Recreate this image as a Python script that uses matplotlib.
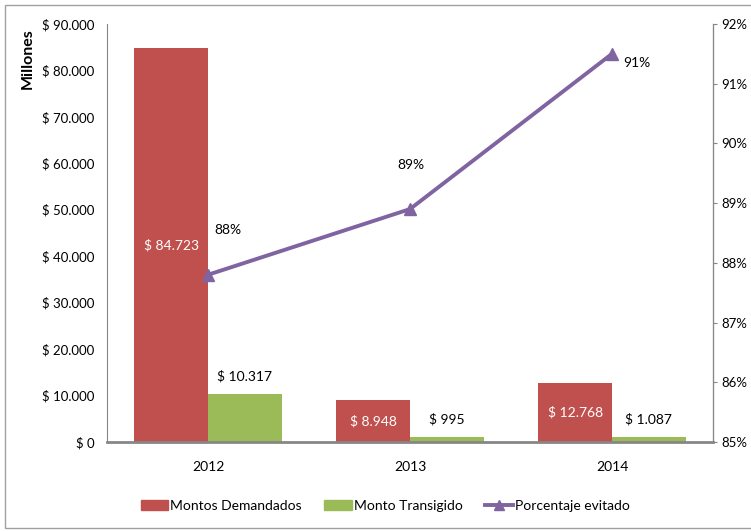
import matplotlib
matplotlib.use("Agg")
from matplotlib import pyplot as plt
from matplotlib.patches import Rectangle
from matplotlib.lines import Line2D
from matplotlib.ticker import FuncFormatter, MultipleLocator

years = ['2012', '2013', '2014']
montos_demandados = [84723, 8948, 12768]
monto_transigido = [10317, 995, 1087]
porcentaje_evitado = [87.8, 88.9, 91.5]
porcentaje_labels = ['88%', '89%', '91%']

red = '#C0504D'
green = '#9BBB59'
purple = '#8064A2'
axis_grey = '#868686'

plt.rcParams['font.family'] = ['Lato', 'DejaVu Sans']
plt.rcParams['font.size'] = 10


def miles(v):
    # 84723 -> "$ 84.723"
    return '$ ' + '{:,.0f}'.format(v).replace(',', '.')


figure = plt.figure(figsize=(7.51, 5.31), dpi=100)
figure.patches.append(Rectangle((0.006, 0.006), 1.2, 0.985, transform=figure.transFigure,
                                fill=False, edgecolor='#A0A0A0', linewidth=1.0))
axis = figure.add_axes([0.1425, 0.1676, 0.807, 0.7874])
axis2 = axis.twinx()

x = list(range(len(years)))
bar_width = 0.365
axis.bar([i - bar_width for i in x], montos_demandados, width=bar_width, align='edge',
         color=red, label='Montos Demandados', zorder=2)
axis.bar(x, monto_transigido, width=bar_width, align='edge',
         color=green, label='Monto Transigido', zorder=2)

axis.set_xlim(-0.5, 2.5)
axis.set_ylim(0, 90000)
axis.yaxis.set_major_locator(MultipleLocator(10000))
axis.yaxis.set_major_formatter(FuncFormatter(lambda v, p: miles(v)))
axis.set_xticks(x)
axis.set_xticklabels(years)
axis.tick_params(axis='x', length=0, pad=14)
axis.tick_params(axis='y', length=0, pad=9, labelsize=9.5)

for spine in ['top']:
    axis.spines[spine].set_visible(False)
    axis2.spines[spine].set_visible(False)
axis.spines['left'].set_color(axis_grey)
axis.spines['bottom'].set_color(axis_grey)
axis.spines['bottom'].set_linewidth(2.0)
axis2.spines['right'].set_color(axis_grey)
axis2.spines['left'].set_visible(False)
axis2.spines['bottom'].set_visible(False)

# bar value labels
for i in x:
    axis.text(i - bar_width / 2, montos_demandados[i] / 2, miles(montos_demandados[i]),
              ha='center', va='center', color='white', zorder=3)
    axis.annotate(miles(monto_transigido[i]), (i + bar_width / 2, monto_transigido[i]),
                  xytext=(0, 13), textcoords='offset points', ha='center', va='center')

# percentage line on the secondary axis
axis2.plot(x, porcentaje_evitado, color=purple, linewidth=2.8, marker='^', markersize=9, zorder=4)
axis2.set_ylim(85, 92)
axis2.yaxis.set_major_locator(MultipleLocator(1))
axis2.yaxis.set_major_formatter(FuncFormatter(lambda v, p: '{:.0f}%'.format(v)))
axis2.tick_params(axis='y', length=3, color=axis_grey, pad=3, labelsize=9.5)

label_offsets = [(14, 32), (1, 32), (18, -7)]
for i in x:
    axis2.annotate(porcentaje_labels[i], (i, porcentaje_evitado[i]), xytext=label_offsets[i],
                   textcoords='offset points', ha='center', va='center')

axis.text(-0.131, 0.99, 'Millones', transform=axis.transAxes, rotation=90,
          ha='center', va='top', fontweight='bold', fontsize=11.5)

handles = [Rectangle((0, 0), 1, 1, color=red), Rectangle((0, 0), 1, 1, color=green),
           Line2D([0], [0], color=purple, linewidth=2.8, marker='^', markersize=7)]
figure.legend(handles, ['Montos Demandados', 'Monto Transigido', 'Porcentaje evitado'],
              loc='center', bbox_to_anchor=(0.513, 0.047), ncol=3, frameon=False,
              handlelength=2.0, handleheight=0.7, handletextpad=0.15, columnspacing=1.6,
              fontsize=10)

plt.savefig('out.png', dpi=100)
